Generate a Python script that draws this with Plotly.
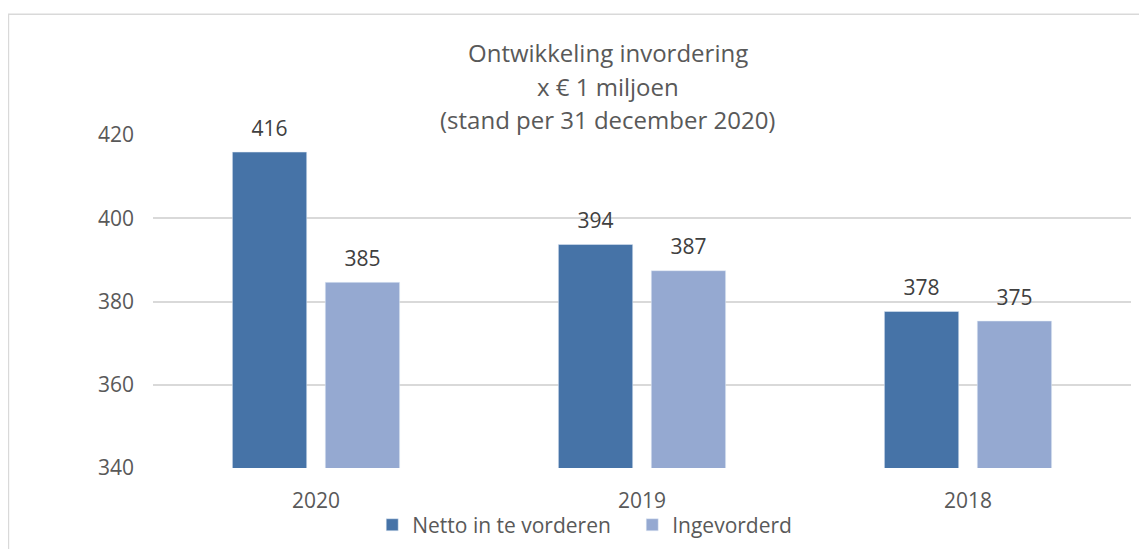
import plotly.graph_objects as go

jaren = ["2020", "2019", "2018"]
netto = [415.9, 393.7, 377.6]
ingevorderd = [384.6, 387.4, 375.3]
titel_regels = ["Ontwikkeling invordering", "x € 1 miljoen", "(stand per 31 december 2020)"]

FONT = "Open Sans"
GRIJS = "#595959"

fig = go.Figure()
for naam, waarden, kleur in [("Netto in te vorderen", netto, "#4673A7"),
                             ("Ingevorderd", ingevorderd, "#95A9D1")]:
    fig.add_trace(go.Bar(x=jaren, y=waarden, name=naam, marker_color=kleur))

# data labels, grouped like the bars so they sit above each bar
for waarden in [netto, ingevorderd]:
    fig.add_trace(go.Scatter(
        x=jaren, y=waarden, mode="markers+text",
        text=[f"{v:.0f}" for v in waarden], textposition="top center",
        textfont=dict(size=21, color="#404040"),
        marker=dict(size=16, opacity=0), showlegend=False, hoverinfo="skip",
        cliponaxis=False,
    ))

# title as three separate lines (Excel style spacing)
for i, regel in enumerate(titel_regels):
    fig.add_annotation(
        text=regel, xref="paper", yref="paper",
        x=0.4652, y=1.247 - i * 0.1, xanchor="center", yanchor="middle",
        showarrow=False, font=dict(size=24, color=GRIJS, family=FONT),
    )

# chart border (left and top visible)
fig.add_shape(type="rect", xref="paper", yref="paper",
              x0=-0.1478, x1=1.1, y0=-0.5, y1=1.3623,
              line=dict(color="#d9d9d9", width=1.5), fillcolor="rgba(0,0,0,0)")

fig.update_layout(
    width=1147, height=549,
    margin=dict(l=145, r=24, t=127, b=88),
    paper_bgcolor="white", plot_bgcolor="white",
    font=dict(family=FONT, color=GRIJS, size=21),
    barmode="group", bargap=0.43, bargroupgap=0.2,
    scattermode="group", scattergap=0.43,
    showlegend=True,
    legend=dict(orientation="h", x=0.490, xanchor="center", y=-0.168, yanchor="middle",
                bgcolor="rgba(0,0,0,0)", entrywidth=215,
                font=dict(size=21, color=GRIJS), itemwidth=30, tracegroupgap=0),
    xaxis=dict(showgrid=False, showline=False, ticks="", tickfont=dict(size=21),
               ticklabelstandoff=18),
    yaxis=dict(range=[340, 420], dtick=20, showgrid=True, gridcolor="#d9d9d9", gridwidth=1.5,
               zeroline=False, showline=False, ticks="", tickfont=dict(size=21),
               ticklabelstandoff=18),
)

fig.write_html("out.html")
